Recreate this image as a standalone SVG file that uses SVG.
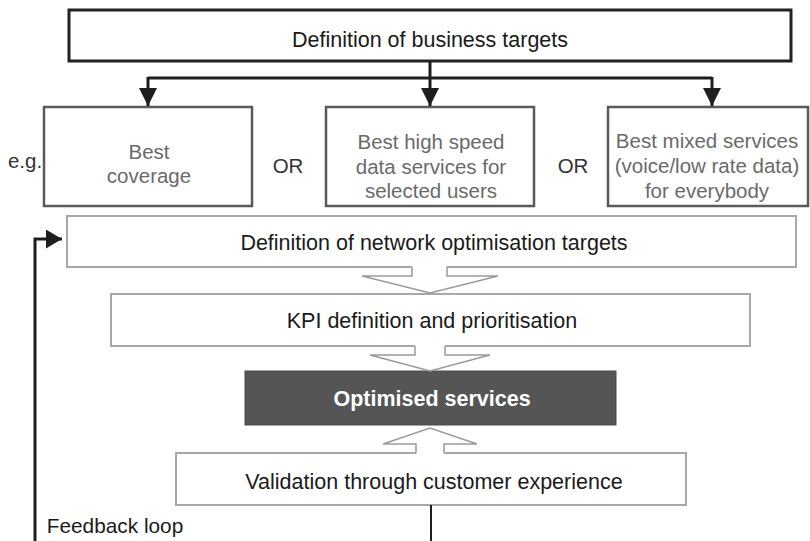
<svg xmlns="http://www.w3.org/2000/svg" width="810" height="541" viewBox="0 0 810 541">
  <style>
    .lbl { font-family: "Liberation Sans", Arial, sans-serif; font-size: 21.5px; fill: #1a1a1a; text-anchor: middle; }
    .opt { font-family: "Liberation Sans", Arial, sans-serif; font-size: 20.5px; fill: #6a6a6a; text-anchor: middle; }
    .side { font-family: "Liberation Sans", Arial, sans-serif; font-size: 20.5px; fill: #333; text-anchor: middle; }
    .strong { fill: #fff; stroke: #222; stroke-width: 3; }
    .option { fill: #fff; stroke: #5a5a5a; stroke-width: 2.5; }
    .light { fill: #fff; stroke: #a8a8a8; stroke-width: 2; }
    .wire { fill: none; stroke: #1e1e1e; stroke-width: 3; }
    .hollow { fill: #fff; stroke: none; }
    .hollow-edge { fill: none; stroke: #9a9a9a; stroke-width: 1.5; stroke-linejoin: miter; }
  </style>
  <defs>
    <marker id="head" viewBox="0 0 18 18" refX="18" refY="9" markerWidth="18" markerHeight="18" markerUnits="userSpaceOnUse" orient="auto">
      <path d="M0,0 L18,9 L0,18 Z" fill="#1e1e1e"/>
    </marker>
    <marker id="headSide" viewBox="0 0 16 19" refX="16" refY="9.5" markerWidth="16" markerHeight="19" markerUnits="userSpaceOnUse" orient="auto">
      <path d="M0,0 L16,9.5 L0,19 Z" fill="#1e1e1e"/>
    </marker>
  </defs>

  <rect width="810" height="541" fill="#fff"/>

  <!-- Business target level -->
  <g id="business-targets">
    <rect class="strong" x="69" y="10" width="722" height="51"/>
    <text class="lbl" x="430" y="47">Definition of business targets</text>
  </g>

  <g id="option-coverage">
    <rect class="option" x="44" y="107" width="208" height="99"/>
    <text class="opt" x="149" y="159">Best</text>
    <text class="opt" x="149" y="183">coverage</text>
  </g>

  <g id="option-highspeed">
    <rect class="option" x="326" y="107" width="208" height="99"/>
    <text class="opt" x="431" y="149">Best high speed</text>
    <text class="opt" x="431" y="173.5">data services for</text>
    <text class="opt" x="431" y="198">selected users</text>
  </g>

  <g id="option-mixed">
    <rect class="option" x="608" y="107" width="200" height="99"/>
    <text class="opt" x="707" y="148">Best mixed services</text>
    <text class="opt" x="707" y="173">(voice/low rate data)</text>
    <text class="opt" x="707" y="198">for everybody</text>
  </g>

  <g id="option-labels">
    <text class="side" x="25" y="168">e.g.</text>
    <text class="side" x="288" y="173">OR</text>
    <text class="side" x="573" y="173">OR</text>
  </g>

  <!-- Optimisation chain -->
  <g id="network-targets">
    <rect class="light" x="67" y="216" width="729" height="51"/>
    <text class="lbl" x="434" y="249.5">Definition of network optimisation targets</text>
  </g>

  <g id="kpi">
    <rect class="light" x="111" y="294" width="639" height="52"/>
    <text class="lbl" x="432" y="327.5">KPI definition and prioritisation</text>
  </g>

  <g id="optimised-services">
    <rect x="245" y="371" width="371" height="54" fill="#555" stroke="#4a4a4a" stroke-width="1"/>
    <text class="lbl" x="432" y="405.5" style="fill:#fff;font-weight:bold">Optimised services</text>
  </g>

  <g id="validation">
    <rect class="light" x="176" y="453" width="510" height="52"/>
    <text class="lbl" x="434" y="489">Validation through customer experience</text>
  </g>

  <g id="feedback-label">
    <text class="side" x="115" y="533" style="fill:#1a1a1a;font-size:20.8px">Feedback loop</text>
  </g>

  <!-- Connectors -->
  <g id="connectors">
    <!-- distribution from business targets to the three options -->
    <path class="wire" d="M430,61 V78"/>
    <path class="wire" d="M148,78 H712"/>
    <path class="wire" d="M148,77 V106" marker-end="url(#head)"/>
    <path class="wire" d="M430,78 V106" marker-end="url(#head)"/>
    <path class="wire" d="M712,77 V106" marker-end="url(#head)"/>

    <!-- hollow block arrows between the stages -->
    <polygon class="hollow" points="412,265 447,265 447,276 498,276 430,293 362,276 412,276"/>
    <path class="hollow-edge" d="M412,267 V276 H362 L430,293 L498,276 H447 V267"/>

    <polygon class="hollow" points="415,344 445,344 445,355 490,355 430,371 370,355 415,355"/>
    <path class="hollow-edge" d="M415,346 V355 H370 L430,371 L490,355 H445 V346"/>

    <polygon class="hollow" points="416,455 444,455 444,444 477,444 430,428 383,444 416,444"/>
    <path class="hollow-edge" d="M416,453 V444 H383 L430,428 L477,444 H444 V453"/>

    <!-- feedback loop back to the network targets -->
    <path d="M431,505 V541" fill="none" stroke="#1e1e1e" stroke-width="2"/>
    <path class="wire" d="M35,541 V239 H62" marker-end="url(#headSide)"/>
  </g>
</svg>
